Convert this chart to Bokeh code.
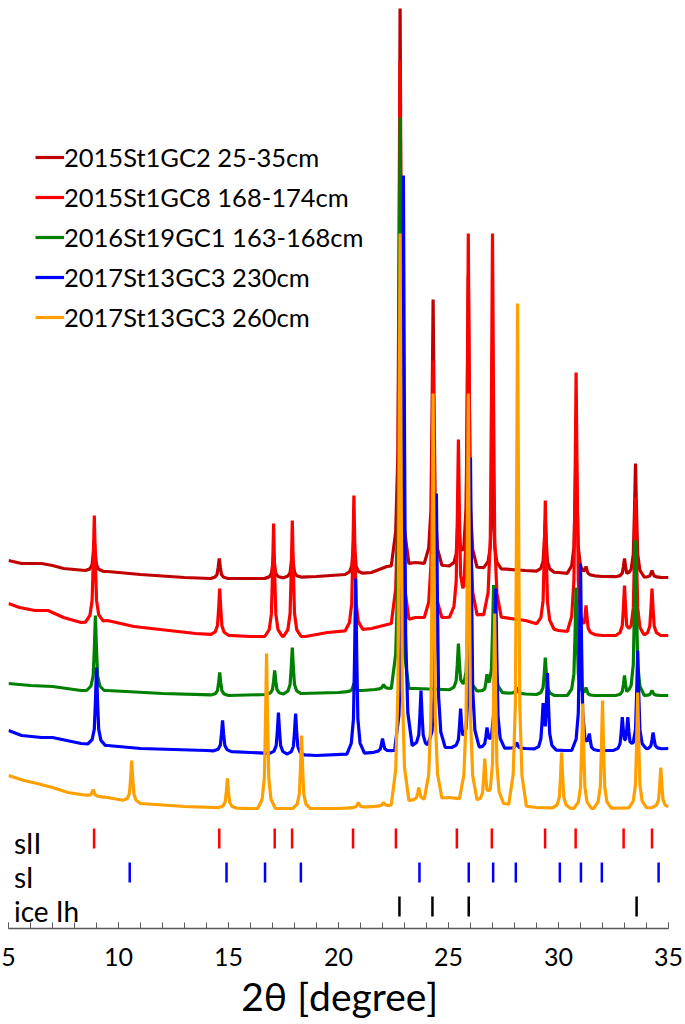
import numpy as np
from bokeh.plotting import figure
from bokeh.models import Legend, LegendItem, FixedTicker, Range1d
from bokeh.embed import file_html
from bokeh.resources import INLINE
from bokeh.core.properties import value

FONT = "Lato"

# ---------------- data (2theta in degree, intensity in arbitrary units) ----------------
series_names = [
    "2015St1GC2 25-35cm",
    "2015St1GC8 168-174cm",
    "2016St19GC1 163-168cm",
    "2017St13GC3 230cm",
    "2017St13GC3 260cm",
]
series_colors = ["#C00000", "#FF0000", "#008000", "#0000FF", "#FFA000"]

# 2015St1GC2 25-35cm
dr_base_x = [5.0, 5.6, 6.5, 7.0, 7.5, 8.5, 9.5, 11.0, 13.0, 14.2, 16.5, 19.0, 20.3, 21.5, 22.2, 23.5, 24.8, 26.5, 28.5, 30.0, 32.0, 35.0]
dr_base_y = [370, 367, 367, 365, 362, 360, 359, 356, 353, 352, 352, 354, 356, 358, 364, 368, 365, 363, 360, 358, 354, 353]
dr_peak_x = [8.9, 14.58, 17.05, 17.9, 20.7, 22.8, 24.3, 25.45, 25.9, 27.0, 29.4, 30.8, 31.25, 33.0, 33.5, 34.25]
dr_peak_y = [390, 372, 375, 378, 395, 927, 631, 425, 655, 468, 410, 490, 364, 372, 467, 360]

# 2015St1GC8 168-174cm
r_base_x = [5.0, 5.5, 6.2, 6.8, 7.5, 8.3, 9.5, 10.7, 13.5, 16.0, 18.5, 19.5, 21.5, 23.5, 24.9, 26.5, 28.5, 30.0, 32.0, 35.0]
r_base_y = [327, 323, 320, 320, 313, 308, 310, 304, 297, 294, 294, 298, 302, 313, 313, 316, 310, 300, 295, 295]
r_peak_x = [8.9, 14.6, 17.05, 17.9, 20.7, 22.8, 24.3, 25.45, 25.9, 27.0, 29.4, 30.8, 31.25, 33.0, 33.5, 34.25]
r_peak_y = [415, 342, 407, 410, 435, 870, 570, 491, 697, 697, 430, 558, 325, 345, 433, 342]

# 2016St19GC1 163-168cm
g_base_x = [5.0, 6.0, 7.0, 8.3, 9.5, 12.0, 15.0, 20.0, 22.2, 23.5, 26.0, 28.0, 30.0, 32.0, 35.0]
g_base_y = [247, 245, 244, 240, 240, 237, 235, 238, 242, 242, 240, 237, 235, 235, 235]
g_peak_x = [8.95, 14.6, 17.1, 17.9, 20.7, 22.05, 22.8, 25.45, 25.9, 26.75, 27.05, 28.1, 29.4, 30.8, 31.25, 33.0, 33.5, 34.25]
g_peak_y = [315, 258, 260, 283, 247, 246, 813, 287, 330, 253, 345, 243, 273, 343, 243, 255, 390, 240]

# 2017St13GC3 230cm
b_base_x = [5.0, 5.6, 6.5, 7.0, 8.3, 9.5, 11.0, 14.0, 16.0, 19.0, 21.0, 22.5, 23.4, 24.9, 26.4, 28.5, 30.3, 32.4, 35.0]
b_base_y = [200, 195, 193, 193, 187, 185, 182, 180, 178, 175, 177, 180, 185, 183, 183, 182, 180, 180, 182]
b_peak_x = [9.0, 14.73, 17.27, 18.05, 20.78, 22.0, 22.95, 23.75, 24.45, 25.55, 26.0, 26.75, 27.15, 28.1, 29.3, 29.5, 31.0, 31.4, 32.9, 33.15, 33.6, 34.3]
b_peak_y = [263, 210, 218, 217, 352, 192, 755, 240, 437, 222, 473, 203, 342, 188, 223, 255, 367, 197, 212, 212, 280, 198]

# 2017St13GC3 260cm
o_base_x = [5.0, 5.7, 6.3, 7.0, 7.7, 8.6, 9.5, 11.0, 13.0, 16.0, 20.0, 22.3, 23.2, 25.0, 26.3, 27.5, 29.0, 31.0, 35.0]
o_base_y = [155, 150, 147, 143, 138, 135, 133, 127, 124, 122, 122, 125, 130, 133, 130, 127, 123, 122, 123]
o_peak_x = [8.85, 10.6, 14.95, 16.73, 18.32, 20.9, 22.05, 22.8, 23.65, 24.3, 25.9, 26.65, 27.1, 28.14, 30.14, 31.1, 32.0, 33.6, 34.65]
o_peak_y = [141, 170, 152, 277, 195, 128, 128, 697, 143, 537, 537, 172, 317, 627, 178, 227, 230, 238, 163]

# reference reflection positions
row_labels = ["sII", "sI", "ice Ih"]
sII_pos = [8.89, 14.58, 17.10, 17.89, 20.66, 22.61, 25.38, 26.97, 29.39, 30.78, 32.96, 34.25]
sI_pos = [10.51, 14.91, 16.66, 18.29, 23.68, 25.92, 27.03, 28.06, 30.06, 31.02, 31.97, 34.55]
ice_pos = [22.77, 24.27, 25.92, 33.55]

# ---------------- drawing helpers ----------------
# fixed peak drawing template (offset in degree, fraction of peak height)
PEAK_DX = [-0.40, -0.20, -0.10, -0.05, 0.0, 0.05, 0.10, 0.20, 0.40]
PEAK_F = [0.0, 0.06, 0.20, 0.55, 1.0, 0.55, 0.20, 0.06, 0.0]


def trace(bx, by, px, py):
    xs = np.array(sorted(set(list(bx) + [c + d for c in px for d in PEAK_DX])))
    xs = xs[(xs >= bx[0]) & (xs <= bx[-1])]
    ys = np.interp(xs, bx, by).astype(float)
    for c, top in zip(px, py):
        h = top - np.interp(c, bx, by)
        ys += h * np.interp(xs - c, PEAK_DX, PEAK_F)
    return xs, ys


p = figure(width=685, height=1024, output_backend="svg", toolbar_location=None,
           x_range=Range1d(5, 35), y_range=Range1d(2, 922),
           min_border_left=8, min_border_right=17, min_border_top=8, min_border_bottom=96)
p.outline_line_color = None
p.xgrid.visible = False
p.ygrid.visible = False
p.yaxis.visible = False
p.background_fill_color = None
p.border_fill_color = "white"

data = [
    (dr_base_x, dr_base_y, dr_peak_x, dr_peak_y),
    (r_base_x, r_base_y, r_peak_x, r_peak_y),
    (g_base_x, g_base_y, g_peak_x, g_peak_y),
    (b_base_x, b_base_y, b_peak_x, b_peak_y),
    (o_base_x, o_base_y, o_peak_x, o_peak_y),
]
items = []
for name, color, (bx, by, px, py) in zip(series_names, series_colors, data):
    xs, ys = trace(bx, by, px, py)
    r = p.line(xs, ys, line_color=color, line_width=3.2)
    items.append(LegendItem(label=name, renderers=[r]))

# reflection tick rows
rows = [(sII_pos, "#FF0000", 82, 102), (sI_pos, "#0000FF", 48, 68), (ice_pos, "#000000", 14, 34)]
for pos, color, lo, hi in rows:
    p.segment(x0=pos, y0=[lo] * len(pos), x1=pos, y1=[hi] * len(pos),
              line_color=color, line_width=2.5)
p.text(x=[5.25, 5.25, 5.25], y=[88, 54, 20], text=row_labels,
       text_font=value(FONT), text_font_size="28px", text_baseline="middle",
       text_align="left", text_color="black")

legend = Legend(items=items, location=(27, 596), orientation="vertical",
                border_line_color=None, background_fill_alpha=0,
                label_text_font=FONT, label_text_font_size="25.5px",
                label_text_color="black",
                glyph_width=29, glyph_height=30, label_height=30,
                spacing=10, padding=0, margin=0, label_standoff=0)
p.add_layout(legend)

ax = p.xaxis[0]
ax.ticker = FixedTicker(ticks=list(range(5, 36, 5)), minor_ticks=list(range(5, 36)))
ax.major_tick_in = 6
ax.major_tick_out = 0
ax.minor_tick_in = 6
ax.minor_tick_out = 0
ax.axis_line_color = "#595959"
ax.major_tick_line_color = "#595959"
ax.minor_tick_line_color = "#595959"
ax.axis_line_width = 1.5
ax.major_label_text_font = FONT
ax.major_label_text_font_size = "25px"
ax.major_label_text_color = "black"
ax.major_label_standoff = 19
ax.axis_label = "2θ [degree]"
ax.axis_label_text_font = FONT
ax.axis_label_text_font_size = "39px"
ax.axis_label_text_font_style = "normal"
ax.axis_label_text_color = "black"
ax.axis_label_standoff = 4

open("out.html", "w").write(file_html(p, INLINE))
